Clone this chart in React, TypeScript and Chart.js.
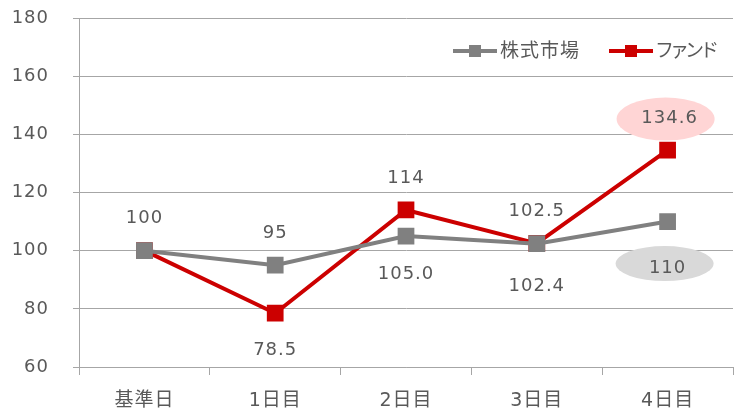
import React, { useEffect, useRef } from "react";
import { Chart, registerables } from "chart.js";

Chart.register(...registerables);

const categories = ["基準日", "1日目", "2日目", "3日目", "4日目"];
const marketName = "株式市場";
const fundName = "ファンド";
const marketValues = [100, 95, 105.0, 102.4, 110];
const fundValues = [100, 78.5, 114, 102.5, 134.6];
const marketLabels = ["", "95", "105.0", "102.4", "110"];
const fundLabels = ["100", "78.5", "114", "102.5", "134.6"];
const yMin = 60;
const yMax = 180;
const yStep = 20;

const FONT = '"DejaVu Sans", "Noto Sans CJK JP", sans-serif';
const TEXT = "#595959";
const GRID = "#A6A6A6";
const GRAY = "#808080";
const RED = "#CC0000";

const spacingPlugin = {
  id: "letterSpacing",
  beforeUpdate(chart: any) {
    chart.ctx.letterSpacing = "1px";
  },
  beforeDraw(chart: any) {
    chart.ctx.letterSpacing = "1px";
  },
};

const labelPlugin = {
  id: "valueLabels",
  afterDatasetsDraw(chart: any, _args: any, opts: any) {
    const ctx = chart.ctx;
    ctx.save();
    ctx.letterSpacing = "1px";
    ctx.font = `18px ${FONT}`;
    ctx.textAlign = "center";
    ctx.textBaseline = "middle";
    chart.data.datasets.forEach((_ds: any, di: number) => {
      const meta = chart.getDatasetMeta(di);
      const texts: string[] = di === 0 ? marketLabels : fundLabels;
      const offs: number[] = opts.offsets[di];
      const bubbles = opts.bubbles[di];
      meta.data.forEach((pt: any, i: number) => {
        const t = texts[i];
        if (!t) return;
        const x = pt.x + (opts.dx[di][i] || 0);
        const y = pt.y + offs[i];
        const b = bubbles[i];
        if (b) {
          ctx.beginPath();
          ctx.fillStyle = b.color;
          ctx.ellipse(x + b.dx, y + b.dy, b.rx, b.ry, 0, 0, Math.PI * 2);
          ctx.fill();
        }
        ctx.fillStyle = TEXT;
        ctx.fillText(t, x, y);
      });
    });
    ctx.restore();
  },
};

const legendPlugin = {
  id: "customLegend",
  afterDraw(chart: any) {
    const ctx = chart.ctx;
    ctx.save();
    const y = 51;
    const items = [
      { name: marketName, color: GRAY, x0: 453, x1: 497, tx: 500, sp: "1px" },
      { name: fundName, color: RED, x0: 609, x1: 653, tx: 655, sp: "-4px" },
    ];
    ctx.font = `19px ${FONT}`;
    ctx.textBaseline = "middle";
    ctx.textAlign = "left";
    items.forEach((it) => {
      ctx.strokeStyle = it.color;
      ctx.lineWidth = 4;
      ctx.beginPath();
      ctx.moveTo(it.x0, y);
      ctx.lineTo(it.x1, y);
      ctx.stroke();
      ctx.fillStyle = it.color;
      const cx = (it.x0 + it.x1) / 2;
      ctx.fillRect(cx - 6, y - 6, 12, 12);
      ctx.fillStyle = TEXT;
      ctx.letterSpacing = it.sp;
      ctx.fillText(it.name, it.tx, y + 1);
    });
    ctx.restore();
  },
};

export default function App() {
  const ref = useRef<HTMLCanvasElement>(null);
  useEffect(() => {
    if (!ref.current) return;
    const chart = new Chart(ref.current, {
      type: "line",
      data: {
        labels: categories,
        datasets: [
          {
            label: marketName,
            data: marketValues,
            borderColor: GRAY,
            backgroundColor: GRAY,
            borderWidth: 4,
            pointStyle: "rect",
            pointRadius: 9,
            pointHoverRadius: 9,
            tension: 0,
          },
          {
            label: fundName,
            data: fundValues,
            borderColor: RED,
            backgroundColor: RED,
            borderWidth: 4,
            pointStyle: "rect",
            pointRadius: 9,
            pointHoverRadius: 9,
            tension: 0,
          },
        ],
      },
      options: {
        responsive: false,
        animation: false,
        devicePixelRatio: 1,
        layout: { padding: { top: 18, right: 7, bottom: 0, left: 0 } },
        plugins: {
          legend: { display: false },
          tooltip: { enabled: false },
          valueLabels: {
            offsets: [
              [0, -32, 38, 43, 47],
              [-32, 37, -32, -32, -32],
            ],
            dx: [
              [0, 0, 0, 0, 0],
              [0, 0, 0, 0, 2],
            ],
            bubbles: [
              [null, null, null, null, { color: "#D9D9D9", dx: -3, dy: -5, rx: 49, ry: 17.5 }],
              [null, null, null, null, { color: "#FFD5D5", dx: -4, dy: 1, rx: 49, ry: 21.5 }],
            ],
          },
        } as any,
        scales: {
          x: {
            offset: true,
            grid: {
              offset: true,
              drawOnChartArea: false,
              drawTicks: true,
              tickLength: 8,
              color: GRID,
            },
            border: { color: GRID },
            ticks: { color: TEXT, font: { family: FONT, size: 19 }, padding: 15 },
            afterFit: (s: any) => {
              s.height = 45;
              s.paddingLeft = 0;
              s.paddingRight = 0;
            },
          },
          y: {
            min: yMin,
            max: yMax,
            ticks: {
              stepSize: yStep,
              color: TEXT,
              font: { family: FONT, size: 18 },
              padding: 24,
            },
            grid: { color: GRID, tickLength: 6 },
            border: { color: GRID },
            afterFit: (s: any) => {
              s.width = 79;
              s.paddingTop = 0;
              s.paddingBottom = 0;
            },
          },
        },
      },
      plugins: [spacingPlugin, labelPlugin, legendPlugin],
    });
    return () => chart.destroy();
  }, []);
  return (
    <div style={{ position: "fixed", left: 0, top: 0, width: 746, height: 412, background: "#fff" }}>
      <canvas ref={ref} width={746} height={412} />
    </div>
  );
}
